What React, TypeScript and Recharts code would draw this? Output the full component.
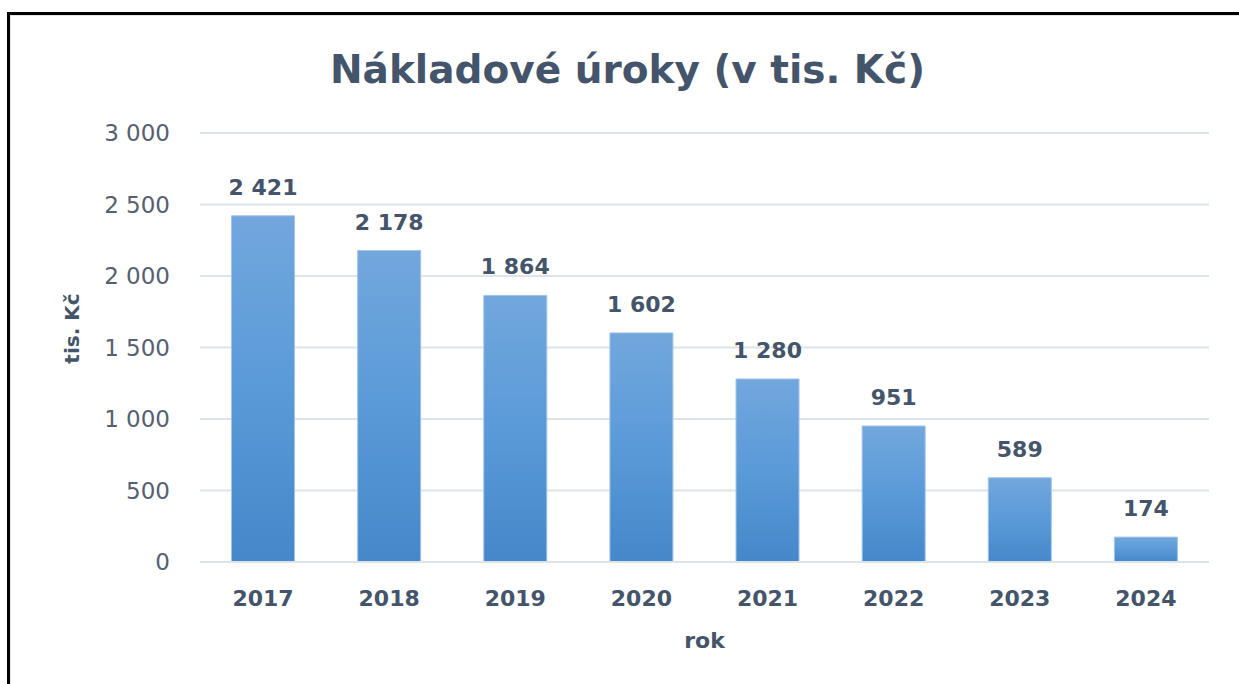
import React from 'react';
import { BarChart, Bar, XAxis, YAxis, CartesianGrid, LabelList } from 'recharts';

const years = ['2017', '2018', '2019', '2020', '2021', '2022', '2023', '2024'];
const interest = [2421, 2178, 1864, 1602, 1280, 951, 589, 174];
const yTicks = [0, 500, 1000, 1500, 2000, 2500, 3000];

const data = years.map((year, i) => ({ year, value: interest[i] }));

const FONT = '"DejaVu Sans", sans-serif';
const DARK = '#44546a';

// thousands with a space, like "2 421"
const fmt = (v: number) => String(v).replace(/\B(?=(\d{3})+(?!\d))/g, ' ');

const YLabel = ({ viewBox }: any) => {
  const cx = viewBox.x + 72;
  const cy = viewBox.y + viewBox.height / 2 - 19;
  return (
    <text
      x={cx}
      y={cy}
      transform={`rotate(-90, ${cx}, ${cy})`}
      textAnchor="middle"
      dominantBaseline="central"
      fill={DARK}
      fontFamily={FONT}
      fontWeight="bold"
      fontSize={20}
    >
      tis. Kč
    </text>
  );
};

const App: React.FC = () => {
  return (
    <div style={{ position: 'relative', width: 1239, height: 684, overflow: 'hidden', background: '#fff' }}>
      <style>{'body{margin:0}'}</style>
      {/* black outer frame (top + left only visible) */}
      <div style={{ position: 'absolute', left: 7, top: 12, width: 1400, height: 800, borderTop: '3px solid #000', borderLeft: '3px solid #000' }} />
      <div style={{ position: 'absolute', left: 10, top: 15, width: 1400, height: 800, borderTop: '1px solid #e3e8ee', borderLeft: '1px solid #e3e8ee' }} />

      <div
        style={{
          position: 'absolute',
          left: 0,
          top: 50,
          width: 1255,
          textAlign: 'center',
          fontFamily: FONT,
          fontWeight: 'bold',
          fontSize: 39,
          lineHeight: '39px',
          color: DARK,
        }}
      >
        Nákladové úroky (v tis. Kč)
      </div>

      <div style={{ position: 'absolute', left: 0, top: 0 }}>
        <BarChart
          width={1239}
          height={684}
          data={data}
          margin={{ top: 133, right: 30, bottom: 22, left: 0 }}
          barCategoryGap="25%"
        >
          <defs>
            <linearGradient id="barFill" x1="0" y1="0" x2="0" y2="1">
              <stop offset="0%" stopColor="#72a7dd" />
              <stop offset="50%" stopColor="#5a9ad8" />
              <stop offset="100%" stopColor="#4587c9" />
            </linearGradient>
          </defs>
          <CartesianGrid vertical={false} stroke="#dde3ea" strokeWidth={2} />
          <XAxis
            dataKey="year"
            height={100}
            axisLine={{ stroke: '#dde3ea', strokeWidth: 2 }}
            tickLine={false}
            tickSize={0}
            tickMargin={28}
            tick={{ fill: DARK, fontFamily: FONT, fontWeight: 'bold', fontSize: 22 }}
            label={{ value: 'rok', position: 'insideBottom', offset: 14, fill: DARK, fontFamily: FONT, fontWeight: 'bold', fontSize: 22 }}
          />
          <YAxis
            width={200}
            domain={[0, 3000]}
            ticks={yTicks}
            axisLine={false}
            tickLine={false}
            tickSize={0}
            tickMargin={30}
            tickFormatter={fmt}
            tick={{ fill: '#556070', fontFamily: FONT, fontSize: 23 }}
            label={<YLabel />}
          />
          <Bar dataKey="value" fill="url(#barFill)" stroke="#9fc4ea" strokeWidth={1} isAnimationActive={false}>
            <LabelList
              dataKey="value"
              position="top"
              offset={21}
              formatter={(v: any) => fmt(Number(v))}
              fill={DARK}
              fontFamily={FONT}
              fontWeight="bold"
              fontSize={22}
            />
          </Bar>
        </BarChart>
      </div>
    </div>
  );
};

export default App;
